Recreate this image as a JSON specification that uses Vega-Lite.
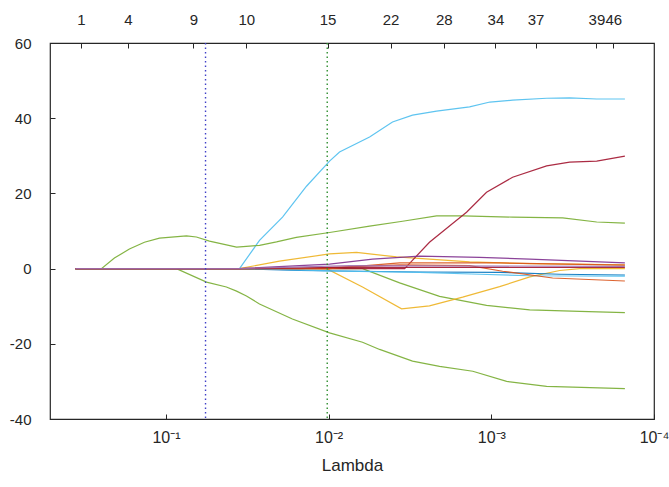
{
  "$schema": "https://vega.github.io/schema/vega-lite/v6.json",
  "width": 604,
  "height": 376,
  "autosize": {"type": "none"},
  "padding": {"left": 50, "top": 43, "right": 15, "bottom": 68},
  "background": "white",
  "config": {
    "view": {"stroke": "#262626", "strokeWidth": 1.2},
    "axis": {
      "labelFont": "Liberation Sans",
      "labelFontSize": 15,
      "labelColor": "#262626",
      "tickColor": "#262626",
      "domain": false,
      "grid": false,
      "titleFont": "Liberation Sans",
      "titleColor": "#262626",
      "titleFontWeight": "normal"
    }
  },
  "datasets": {
    "paths": [
      {"s": "A", "lambda": 0.3602, "coef": 0},
      {"s": "A", "lambda": 0.0353, "coef": 0},
      {"s": "A", "lambda": 0.0266, "coef": 7.5},
      {"s": "A", "lambda": 0.0192, "coef": 13.7},
      {"s": "A", "lambda": 0.01368, "coef": 21.9},
      {"s": "A", "lambda": 0.00987, "coef": 28.6},
      {"s": "A", "lambda": 0.00857, "coef": 31.0},
      {"s": "A", "lambda": 0.0056, "coef": 35.0},
      {"s": "A", "lambda": 0.00405, "coef": 39.0},
      {"s": "A", "lambda": 0.00305, "coef": 40.8},
      {"s": "A", "lambda": 0.00217, "coef": 41.9},
      {"s": "A", "lambda": 0.00136, "coef": 43.0},
      {"s": "A", "lambda": 0.00102, "coef": 44.3},
      {"s": "A", "lambda": 0.00074, "coef": 44.8},
      {"s": "A", "lambda": 0.000457, "coef": 45.3},
      {"s": "A", "lambda": 0.00033, "coef": 45.4},
      {"s": "A", "lambda": 0.000225, "coef": 45.1},
      {"s": "A", "lambda": 0.000151, "coef": 45.1},

      {"s": "B", "lambda": 0.3602, "coef": 0},
      {"s": "B", "lambda": 0.2492, "coef": 0},
      {"s": "B", "lambda": 0.2074, "coef": 2.8},
      {"s": "B", "lambda": 0.1677, "coef": 5.2},
      {"s": "B", "lambda": 0.1356, "coef": 7.0},
      {"s": "B", "lambda": 0.1096, "coef": 8.1},
      {"s": "B", "lambda": 0.0748, "coef": 8.7},
      {"s": "B", "lambda": 0.065, "coef": 8.4},
      {"s": "B", "lambda": 0.054, "coef": 7.3},
      {"s": "B", "lambda": 0.0368, "coef": 5.7},
      {"s": "B", "lambda": 0.0266, "coef": 6.2},
      {"s": "B", "lambda": 0.0209, "coef": 7.1},
      {"s": "B", "lambda": 0.0158, "coef": 8.3},
      {"s": "B", "lambda": 0.00987, "coef": 9.6},
      {"s": "B", "lambda": 0.0056, "coef": 11.3},
      {"s": "B", "lambda": 0.00351, "coef": 12.6},
      {"s": "B", "lambda": 0.00217, "coef": 14.0},
      {"s": "B", "lambda": 0.0015, "coef": 14.0},
      {"s": "B", "lambda": 0.00074, "coef": 13.7},
      {"s": "B", "lambda": 0.000364, "coef": 13.5},
      {"s": "B", "lambda": 0.000225, "coef": 12.4},
      {"s": "B", "lambda": 0.000151, "coef": 12.1},

      {"s": "C", "lambda": 0.3602, "coef": 0},
      {"s": "C", "lambda": 0.0862, "coef": 0},
      {"s": "C", "lambda": 0.0563, "coef": -3.6},
      {"s": "C", "lambda": 0.0425, "coef": -4.9},
      {"s": "C", "lambda": 0.0368, "coef": -6.0},
      {"s": "C", "lambda": 0.032, "coef": -7.3},
      {"s": "C", "lambda": 0.0266, "coef": -9.4},
      {"s": "C", "lambda": 0.0167, "coef": -13.4},
      {"s": "C", "lambda": 0.00987, "coef": -17.1},
      {"s": "C", "lambda": 0.00619, "coef": -19.6},
      {"s": "C", "lambda": 0.00486, "coef": -21.5},
      {"s": "C", "lambda": 0.00305, "coef": -24.6},
      {"s": "C", "lambda": 0.00208, "coef": -26.0},
      {"s": "C", "lambda": 0.0013, "coef": -27.3},
      {"s": "C", "lambda": 0.000805, "coef": -30.0},
      {"s": "C", "lambda": 0.000457, "coef": -31.3},
      {"s": "C", "lambda": 0.000151, "coef": -31.9},

      {"s": "D", "lambda": 0.3602, "coef": 0},
      {"s": "D", "lambda": 0.00619, "coef": 0},
      {"s": "D", "lambda": 0.00366, "coef": -3.8},
      {"s": "D", "lambda": 0.00208, "coef": -7.4},
      {"s": "D", "lambda": 0.00107, "coef": -9.8},
      {"s": "D", "lambda": 0.000581, "coef": -11.0},
      {"s": "D", "lambda": 0.000286, "coef": -11.4},
      {"s": "D", "lambda": 0.000151, "coef": -11.7},

      {"s": "E", "lambda": 0.3602, "coef": 0},
      {"s": "E", "lambda": 0.0353, "coef": 0},
      {"s": "E", "lambda": 0.02004, "coef": 2.0},
      {"s": "E", "lambda": 0.00987, "coef": 3.9},
      {"s": "E", "lambda": 0.00674, "coef": 4.3},
      {"s": "E", "lambda": 0.0056, "coef": 3.9},
      {"s": "E", "lambda": 0.00382, "coef": 3.1},
      {"s": "E", "lambda": 0.0024, "coef": 2.5},
      {"s": "E", "lambda": 0.00136, "coef": 1.8},
      {"s": "E", "lambda": 0.000581, "coef": 1.3},
      {"s": "E", "lambda": 0.000151, "coef": 1.0},

      {"s": "F", "lambda": 0.3602, "coef": 0},
      {"s": "F", "lambda": 0.0103, "coef": 0},
      {"s": "F", "lambda": 0.00619, "coef": -4.9},
      {"s": "F", "lambda": 0.00356, "coef": -10.7},
      {"s": "F", "lambda": 0.0024, "coef": -9.9},
      {"s": "F", "lambda": 0.0015, "coef": -7.6},
      {"s": "F", "lambda": 0.000889, "coef": -4.8},
      {"s": "F", "lambda": 0.00058, "coef": -2.2},
      {"s": "F", "lambda": 0.00038, "coef": -0.5},
      {"s": "F", "lambda": 0.000286, "coef": 0},
      {"s": "F", "lambda": 0.000151, "coef": 0},

      {"s": "G", "lambda": 0.3602, "coef": 0},
      {"s": "G", "lambda": 0.00341, "coef": 0},
      {"s": "G", "lambda": 0.0024, "coef": 7.0},
      {"s": "G", "lambda": 0.00173, "coef": 12.0},
      {"s": "G", "lambda": 0.00142, "coef": 15.0},
      {"s": "G", "lambda": 0.00107, "coef": 20.3},
      {"s": "G", "lambda": 0.00074, "coef": 24.3},
      {"s": "G", "lambda": 0.000457, "coef": 27.3},
      {"s": "G", "lambda": 0.00033, "coef": 28.3},
      {"s": "G", "lambda": 0.000225, "coef": 28.6},
      {"s": "G", "lambda": 0.000151, "coef": 29.9},

      {"s": "H", "lambda": 0.3602, "coef": 0},
      {"s": "H", "lambda": 0.0353, "coef": 0},
      {"s": "H", "lambda": 0.00987, "coef": 1.2},
      {"s": "H", "lambda": 0.00537, "coef": 2.5},
      {"s": "H", "lambda": 0.00276, "coef": 3.3},
      {"s": "H", "lambda": 0.00118, "coef": 3.0},
      {"s": "H", "lambda": 0.000581, "coef": 2.5},
      {"s": "H", "lambda": 0.000151, "coef": 1.5},

      {"s": "J", "lambda": 0.3602, "coef": 0},
      {"s": "J", "lambda": 0.0353, "coef": 0},
      {"s": "J", "lambda": 0.0151, "coef": -0.5},
      {"s": "J", "lambda": 0.00276, "coef": -0.9},
      {"s": "J", "lambda": 0.000889, "coef": -1.0},
      {"s": "J", "lambda": 0.00038, "coef": -1.5},
      {"s": "J", "lambda": 0.000151, "coef": -1.7},

      {"s": "K", "lambda": 0.3602, "coef": 0},
      {"s": "K", "lambda": 0.0306, "coef": 0},
      {"s": "K", "lambda": 0.00987, "coef": -0.6},
      {"s": "K", "lambda": 0.00276, "coef": -1.0},
      {"s": "K", "lambda": 0.00118, "coef": -1.5},
      {"s": "K", "lambda": 0.000581, "coef": -1.9},
      {"s": "K", "lambda": 0.000151, "coef": -2.0},

      {"s": "L", "lambda": 0.3602, "coef": 0},
      {"s": "L", "lambda": 0.0151, "coef": 0},
      {"s": "L", "lambda": 0.00366, "coef": 1.0},
      {"s": "L", "lambda": 0.00136, "coef": 0.8},
      {"s": "L", "lambda": 0.000852, "coef": -0.7},
      {"s": "L", "lambda": 0.00042, "coef": -2.5},
      {"s": "L", "lambda": 0.000151, "coef": -3.3},

      {"s": "M", "lambda": 0.3602, "coef": 0},
      {"s": "M", "lambda": 0.00987, "coef": 0},
      {"s": "M", "lambda": 0.00366, "coef": 1.5},
      {"s": "M", "lambda": 0.000889, "coef": 1.5},
      {"s": "M", "lambda": 0.000151, "coef": 0.9},

      {"s": "N", "lambda": 0.3602, "coef": 0},
      {"s": "N", "lambda": 0.0353, "coef": 0},
      {"s": "N", "lambda": 0.00744, "coef": 0.3},
      {"s": "N", "lambda": 0.000151, "coef": 0.3},

      {"s": "I", "lambda": 0.3602, "coef": 0},
      {"s": "I", "lambda": 0.0353, "coef": 0},
      {"s": "I", "lambda": 0.00744, "coef": 0.8},
      {"s": "I", "lambda": 0.000151, "coef": 0.6}
    ],
    "marks": [
      {"lambda": 0.0571, "c": "#4040c8"},
      {"lambda": 0.0102, "c": "#2f8f2f"}
    ]
  },
  "layer": [
    {
      "data": {"name": "paths"},
      "mark": {"type": "line", "strokeWidth": 1.2, "opacity": 0.9, "clip": true},
      "encoding": {
        "x": {
          "field": "lambda",
          "type": "quantitative",
          "scale": {"type": "log", "domain": [0.0001, 0.516], "reverse": true, "nice": false, "zero": false},
          "axis": {
            "orient": "bottom",
            "values": [0.1, 0.01, 0.001, 0.0001],
            "labelExpr": "datum.value > 0.05 ? '10⁻¹' : datum.value > 0.005 ? '10⁻²' : datum.value > 0.0005 ? '10⁻³' : '10⁻⁴'",
            "tickSize": -5,
            "labelPadding": 15,
            "labelFlush": false,
            "labelOverlap": false,
            "labelFontSize": 16,
            "title": "Lambda",
            "titleFontSize": 17,
            "titlePadding": 12
          }
        },
        "y": {
          "field": "coef",
          "type": "quantitative",
          "scale": {"domain": [-40, 60], "nice": false, "zero": false},
          "axis": {
            "values": [-40, -20, 0, 20, 40, 60],
            "labelExpr": "'' + datum.value",
            "tickSize": -5,
            "labelPadding": 24,
            "labelFlush": false,
            "labelOverlap": false,
            "title": null
          }
        },
        "color": {
          "field": "s",
          "type": "nominal",
          "legend": null,
          "scale": {
            "domain": ["A", "B", "C", "D", "E", "F", "G", "H", "J", "K", "L", "M", "N", "I"],
            "range": ["#4DBEEE", "#77AC30", "#77AC30", "#77AC30", "#EDB120", "#EDB120", "#A2142F", "#7E2F8E", "#0072BD", "#4DBEEE", "#D95319", "#D95319", "#A2142F", "#9E6FB0"]
          }
        }
      }
    },
    {
      "data": {"name": "marks"},
      "mark": {"type": "rule", "strokeWidth": 1.4, "strokeDash": [1.5, 3]},
      "encoding": {
        "x": {
          "field": "lambda",
          "type": "quantitative",
          "scale": {"type": "log", "domain": [0.0001, 0.516], "reverse": true, "nice": false, "zero": false},
          "axis": {
            "orient": "top",
            "values": [0.333, 0.171, 0.0677, 0.0321, 0.01016, 0.00416, 0.00196, 0.000944, 0.000535, 0.000226, 0.000178],
            "labelExpr": "datum.value > 0.25 ? '1' : datum.value > 0.1 ? '4' : datum.value > 0.05 ? '9' : datum.value > 0.02 ? '10' : datum.value > 0.007 ? '15' : datum.value > 0.003 ? '22' : datum.value > 0.0014 ? '28' : datum.value > 0.0007 ? '34' : datum.value > 0.0004 ? '37' : datum.value > 0.0002 ? '39' : '46'",
            "tickSize": -5,
            "labelPadding": 21,
            "labelFlush": false,
            "labelOverlap": false,
            "labelBound": false,
            "title": null
          }
        },
        "stroke": {"field": "c", "type": "nominal", "scale": null}
      }
    }
  ],
  "resolve": {"axis": {"x": "independent"}}
}
